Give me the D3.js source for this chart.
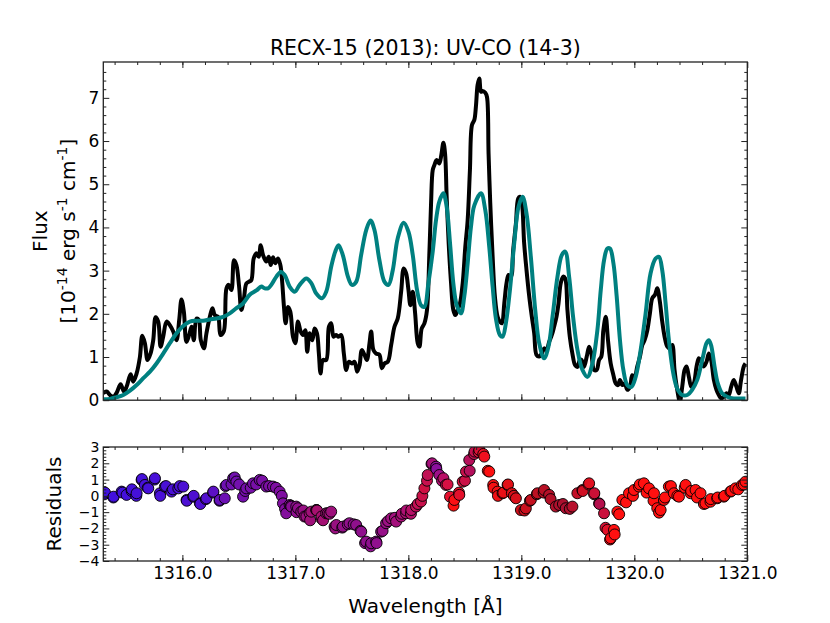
<!DOCTYPE html>
<html>
<head>
<meta charset="utf-8">
<title>RECX-15 (2013): UV-CO (14-3)</title>
<script src="https://d3js.org/d3.v7.min.js"></script>
<style>
  body { margin: 0; background: #fff; }
  text { font-family: "DejaVu Sans", sans-serif; }
</style>
</head>
<body>
<script>
// observed spectrum (flux in 1e-14 erg/s/cm2/A)
var obsWave = [1315.300, 1315.330, 1315.359, 1315.389, 1315.418, 1315.453, 1315.483, 1315.506, 1315.542, 1315.565,
  1315.595, 1315.624, 1315.645, 1315.668, 1315.692, 1315.718, 1315.742, 1315.763, 1315.786, 1315.807,
  1315.830, 1315.860, 1315.889, 1315.919, 1315.948, 1315.972, 1315.992, 1316.013, 1316.036, 1316.060,
  1316.081, 1316.101, 1316.125, 1316.145, 1316.163, 1316.190, 1316.213, 1316.243, 1316.266, 1316.287,
  1316.316, 1316.337, 1316.366, 1316.390, 1316.410, 1316.434, 1316.457, 1316.478, 1316.502, 1316.522,
  1316.543, 1316.566, 1316.587, 1316.610, 1316.631, 1316.655, 1316.676, 1316.693, 1316.714, 1316.743,
  1316.764, 1316.782, 1316.802, 1316.823, 1316.846, 1316.867, 1316.882, 1316.899, 1316.914, 1316.935,
  1316.955, 1316.979, 1317.000, 1317.023, 1317.047, 1317.067, 1317.088, 1317.105, 1317.126, 1317.150,
  1317.170, 1317.191, 1317.208, 1317.223, 1317.244, 1317.273, 1317.297, 1317.317, 1317.338, 1317.362,
  1317.382, 1317.406, 1317.429, 1317.450, 1317.473, 1317.500, 1317.524, 1317.547, 1317.568, 1317.588,
  1317.612, 1317.633, 1317.656, 1317.671, 1317.691, 1317.715, 1317.744, 1317.765, 1317.789, 1317.818,
  1317.848, 1317.877, 1317.906, 1317.936, 1317.959, 1317.980, 1318.001, 1318.018, 1318.039, 1318.060,
  1318.083, 1318.098, 1318.118, 1318.142, 1318.165, 1318.186, 1318.201, 1318.216, 1318.230, 1318.251,
  1318.274, 1318.292, 1318.310, 1318.325, 1318.339, 1318.357, 1318.378, 1318.398, 1318.416, 1318.436,
  1318.457, 1318.481, 1318.504, 1318.525, 1318.545, 1318.563, 1318.584, 1318.598, 1318.613, 1318.628,
  1318.643, 1318.657, 1318.681, 1318.696, 1318.710, 1318.725, 1318.746, 1318.766, 1318.790, 1318.810,
  1318.828, 1318.849, 1318.869, 1318.887, 1318.908, 1318.928, 1318.952, 1318.972, 1318.987, 1319.005,
  1319.025, 1319.046, 1319.070, 1319.093, 1319.114, 1319.134, 1319.158, 1319.181, 1319.202, 1319.223,
  1319.246, 1319.270, 1319.290, 1319.311, 1319.329, 1319.349, 1319.370, 1319.388, 1319.408, 1319.429,
  1319.452, 1319.476, 1319.497, 1319.517, 1319.535, 1319.555, 1319.579, 1319.600, 1319.620, 1319.644,
  1319.667, 1319.688, 1319.708, 1319.726, 1319.747, 1319.767, 1319.791, 1319.815, 1319.835, 1319.856,
  1319.873, 1319.894, 1319.915, 1319.938, 1319.962, 1319.982, 1320.003, 1320.026, 1320.050, 1320.071,
  1320.091, 1320.115, 1320.138, 1320.159, 1320.183, 1320.203, 1320.224, 1320.247, 1320.268, 1320.292,
  1320.315, 1320.336, 1320.356, 1320.380, 1320.403, 1320.424, 1320.445, 1320.462, 1320.483, 1320.504,
  1320.527, 1320.551, 1320.571, 1320.592, 1320.615, 1320.639, 1320.660, 1320.680, 1320.704, 1320.727,
  1320.748, 1320.769, 1320.792, 1320.816, 1320.836, 1320.857, 1320.880, 1320.904, 1320.925, 1320.945,
  1320.969, 1320.984];
var obsFlux = [0.16, 0.20, 0.12, 0.08, 0.17, 0.37, 0.20, 0.31, 0.60, 0.43,
  0.62, 1.00, 1.49, 1.32, 0.93, 1.08, 1.39, 1.92, 1.82, 1.24,
  1.47, 1.82, 1.74, 1.59, 1.39, 1.86, 2.33, 2.05, 1.35, 1.51,
  1.70, 1.39, 1.89, 1.86, 1.39, 1.20, 1.55, 1.93, 2.13, 1.97,
  1.93, 1.51, 1.59, 2.59, 2.67, 2.55, 3.24, 3.13, 2.63, 2.09,
  2.32, 2.70, 2.74, 2.78, 3.28, 3.40, 3.32, 3.59, 3.36, 3.21,
  3.32, 3.13, 3.31, 3.17, 3.28, 3.13, 2.78, 2.16, 1.78, 2.16,
  2.05, 1.47, 1.32, 1.82, 1.59, 1.51, 1.62, 1.12, 1.55, 1.39,
  1.66, 1.55, 1.08, 0.62, 0.93, 0.93, 1.70, 1.78, 1.47, 1.51,
  1.47, 1.51, 1.08, 0.70, 0.89, 0.85, 0.89, 0.66, 0.81, 1.16,
  1.05, 0.93, 1.32, 1.59, 1.16, 1.08, 1.05, 0.74, 0.85, 0.89,
  1.28, 1.70, 1.89, 2.51, 3.05, 2.94, 2.55, 2.20, 2.51, 2.01,
  1.32, 1.24, 1.66, 1.78, 2.09, 3.40, 4.56, 5.33, 5.44, 5.56,
  5.48, 5.68, 5.96, 5.71, 4.71, 3.63, 2.71, 2.09, 1.97, 2.09,
  2.24, 2.71, 3.55, 4.17, 5.33, 6.37, 6.49, 6.80, 7.30, 7.45,
  7.14, 7.16, 7.12, 7.02, 5.71, 4.56, 3.32, 2.40, 1.93, 1.82,
  1.78, 2.24, 2.71, 2.90, 2.86, 3.48, 4.09, 4.67, 4.71, 4.56,
  3.63, 3.01, 2.40, 1.93, 1.55, 1.05, 1.01, 1.08, 1.20, 1.16,
  1.35, 1.51, 1.70, 1.93, 2.24, 2.71, 2.86, 2.82, 2.09, 1.47,
  1.08, 0.81, 0.77, 0.93, 0.93, 0.77, 1.01, 1.24, 1.08, 0.70,
  0.70, 0.93, 1.01, 1.62, 1.93, 1.39, 0.85, 0.58, 0.39, 0.35,
  0.47, 0.35, 0.39, 0.24, 0.31, 0.58, 0.54, 0.78, 1.01, 1.28,
  1.39, 1.62, 2.01, 2.36, 2.44, 2.59, 2.32, 1.82, 1.47, 1.24,
  1.20, 1.28, 0.70, 0.24, -0.03, 0.31, 0.70, 0.78, 0.54, 0.31,
  0.39, 0.78, 0.97, 0.89, 0.78, 0.89, 1.08, 0.93, 0.47, 0.24,
  0.12, 0.04, 0.08, 0.16, 0.12, 0.31, 0.47, 0.31, 0.16, 0.47,
  0.78, 0.85];

// model spectrum
var modelWave = [1315.300, 1315.359, 1315.418, 1315.477, 1315.536, 1315.595, 1315.654, 1315.713, 1315.771, 1315.830,
  1315.889, 1315.948, 1316.007, 1316.066, 1316.125, 1316.184, 1316.243, 1316.302, 1316.360, 1316.419,
  1316.478, 1316.537, 1316.596, 1316.655, 1316.699, 1316.728, 1316.758, 1316.787, 1316.832, 1316.870,
  1316.905, 1316.949, 1316.994, 1317.038, 1317.097, 1317.141, 1317.185, 1317.235, 1317.273, 1317.317,
  1317.353, 1317.382, 1317.420, 1317.465, 1317.500, 1317.538, 1317.582, 1317.627, 1317.665, 1317.700,
  1317.744, 1317.789, 1317.824, 1317.862, 1317.906, 1317.959, 1318.001, 1318.039, 1318.077, 1318.112,
  1318.142, 1318.177, 1318.216, 1318.245, 1318.274, 1318.310, 1318.339, 1318.369, 1318.398, 1318.428,
  1318.466, 1318.495, 1318.525, 1318.554, 1318.584, 1318.643, 1318.681, 1318.716, 1318.746, 1318.775,
  1318.810, 1318.834, 1318.863, 1318.899, 1318.937, 1318.975, 1319.011, 1319.046, 1319.084, 1319.123,
  1319.158, 1319.202, 1319.240, 1319.276, 1319.320, 1319.358, 1319.388, 1319.423, 1319.458, 1319.497,
  1319.541, 1319.585, 1319.629, 1319.673, 1319.703, 1319.732, 1319.761, 1319.785, 1319.815, 1319.844,
  1319.873, 1319.903, 1319.938, 1319.974, 1320.012, 1320.056, 1320.100, 1320.144, 1320.188, 1320.218,
  1320.247, 1320.277, 1320.306, 1320.345, 1320.380, 1320.424, 1320.468, 1320.512, 1320.557, 1320.601,
  1320.639, 1320.660, 1320.680, 1320.710, 1320.739, 1320.777, 1320.822, 1320.880, 1320.939, 1320.984];
var modelFlux = [0.02, 0.03, 0.07, 0.12, 0.22, 0.35, 0.51, 0.66, 0.85, 1.08,
  1.32, 1.55, 1.72, 1.82, 1.84, 1.84, 1.87, 1.89, 1.93, 2.01,
  2.13, 2.24, 2.44, 2.54, 2.63, 2.59, 2.59, 2.67, 2.86, 2.97,
  2.90, 2.63, 2.51, 2.67, 2.82, 2.71, 2.47, 2.36, 2.51, 3.09,
  3.44, 3.59, 3.36, 2.86, 2.67, 2.74, 3.36, 3.94, 4.16, 3.94,
  3.24, 2.74, 2.67, 3.01, 3.75, 4.11, 3.90, 3.36, 2.55, 2.20,
  2.16, 2.70, 3.45, 4.17, 4.60, 4.79, 4.48, 3.63, 2.71, 2.20,
  2.01, 2.40, 3.17, 4.01, 4.51, 4.79, 4.40, 3.55, 2.63, 1.89,
  1.51, 1.47, 1.78, 2.55, 3.63, 4.48, 4.71, 4.32, 3.32, 2.09,
  1.32, 0.97, 1.24, 1.93, 2.86, 3.36, 3.44, 2.86, 1.93, 1.16,
  0.70, 0.54, 0.85, 1.62, 2.55, 3.24, 3.51, 3.51, 3.17, 2.40,
  1.39, 0.70, 0.35, 0.31, 0.54, 1.16, 2.01, 2.94, 3.28, 3.32,
  3.01, 2.24, 1.39, 0.62, 0.27, 0.12, 0.12, 0.24, 0.47, 0.93,
  1.32, 1.39, 1.27, 0.78, 0.39, 0.16, 0.08, 0.04, 0.04, 0.04];

// residuals
var resWave = [1315.308, 1315.315, 1315.389, 1315.391, 1315.462, 1315.470, 1315.506, 1315.551, 1315.553, 1315.592,
  1315.595, 1315.639, 1315.642, 1315.668, 1315.693, 1315.698, 1315.754, 1315.757, 1315.801, 1315.804,
  1315.845, 1315.855, 1315.904, 1315.916, 1315.964, 1315.977, 1316.008, 1316.037, 1316.039, 1316.096,
  1316.100, 1316.155, 1316.159, 1316.208, 1316.213, 1316.272, 1316.274, 1316.329, 1316.331, 1316.375,
  1316.382, 1316.390, 1316.435, 1316.449, 1316.463, 1316.478, 1316.503, 1316.537, 1316.556, 1316.566,
  1316.605, 1316.625, 1316.653, 1316.684, 1316.706, 1316.743, 1316.767, 1316.802, 1316.828, 1316.861,
  1316.880, 1316.890, 1316.909, 1316.919, 1316.949, 1316.961, 1316.964, 1317.008, 1317.010, 1317.023,
  1317.052, 1317.071, 1317.081, 1317.097, 1317.126, 1317.131, 1317.141, 1317.185, 1317.187, 1317.192,
  1317.229, 1317.231, 1317.245, 1317.273, 1317.288, 1317.302, 1317.317, 1317.347, 1317.354, 1317.362,
  1317.415, 1317.421, 1317.464, 1317.479, 1317.516, 1317.538, 1317.577, 1317.583, 1317.617, 1317.627,
  1317.666, 1317.671, 1317.715, 1317.719, 1317.759, 1317.772, 1317.803, 1317.820, 1317.848, 1317.881,
  1317.892, 1317.936, 1317.942, 1317.980, 1317.982, 1318.023, 1318.026, 1318.068, 1318.084, 1318.112,
  1318.124, 1318.142, 1318.165, 1318.171, 1318.205, 1318.210, 1318.245, 1318.248, 1318.274, 1318.298,
  1318.310, 1318.333, 1318.347, 1318.369, 1318.400, 1318.407, 1318.448, 1318.451, 1318.481, 1318.501,
  1318.510, 1318.539, 1318.543, 1318.582, 1318.586, 1318.622, 1318.628, 1318.663, 1318.672, 1318.703,
  1318.716, 1318.751, 1318.754, 1318.790, 1318.793, 1318.834, 1318.841, 1318.878, 1318.882, 1318.916,
  1318.934, 1318.952, 1318.996, 1319.028, 1319.040, 1319.076, 1319.084, 1319.137, 1319.143, 1319.198,
  1319.202, 1319.246, 1319.259, 1319.305, 1319.335, 1319.368, 1319.393, 1319.429, 1319.452, 1319.496,
  1319.541, 1319.544, 1319.595, 1319.600, 1319.644, 1319.646, 1319.688, 1319.692, 1319.732, 1319.745,
  1319.762, 1319.785, 1319.791, 1319.820, 1319.826, 1319.850, 1319.866, 1319.894, 1319.927, 1319.953,
  1319.988, 1319.997, 1320.041, 1320.049, 1320.085, 1320.109, 1320.130, 1320.170, 1320.174, 1320.203,
  1320.219, 1320.233, 1320.262, 1320.271, 1320.306, 1320.324, 1320.350, 1320.381, 1320.395, 1320.446,
  1320.454, 1320.498, 1320.503, 1320.542, 1320.555, 1320.586, 1320.616, 1320.630, 1320.674, 1320.677,
  1320.733, 1320.738, 1320.792, 1320.798, 1320.851, 1320.859, 1320.895, 1320.920, 1320.954, 1320.969,
  1320.984];
var resVal = [0.10, 0.20, -0.10, -0.05, 0.26, 0.20, 0.06, 0.30, 0.40, 0.00,
  0.16, 0.98, 1.03, 0.67, 0.50, 0.46, 1.00, 1.08, 0.16, 0.00,
  0.57, 0.60, 0.26, 0.40, 0.46, 0.60, 0.57, -0.25, -0.30, -0.05,
  0.00, -0.46, -0.50, -0.20, -0.15, 0.20, 0.26, -0.30, -0.25, -0.15,
  0.60, 0.67, 0.70, 1.08, 1.13, 0.88, 0.70, -0.05, 0.30, 0.46,
  0.50, 0.77, 0.70, 0.98, 0.93, 0.57, 0.60, 0.57, 0.50, 0.26,
  0.00, -0.46, -0.80, -1.07, -0.56, -0.60, -0.66, -0.66, -1.00, -0.76,
  -0.97, -0.90, -1.27, -1.27, -1.07, -1.50, -0.97, -0.87, -0.87, -0.90,
  -1.38, -1.27, -1.50, -1.07, -1.07, -1.10, -0.97, -1.89, -2.00, -1.79,
  -1.95, -1.89, -1.75, -1.68, -1.75, -1.79, -2.15, -2.20, -2.90, -2.81,
  -3.10, -2.91, -2.81, -2.90, -2.20, -2.15, -1.68, -1.55, -1.38, -1.35,
  -1.58, -1.27, -1.10, -1.07, -0.90, -1.10, -0.87, -0.66, -0.50, -0.35,
  0.00, 0.46, 0.93, 1.28, 1.96, 2.00, 1.79, 1.65, 1.28, 0.93,
  1.08, 0.67, 0.70, -0.05, -0.60, -0.25, 0.20, 0.06, 0.87, 0.93,
  1.49, 2.20, 1.54, 2.57, 2.72, 2.68, 2.82, 2.57, 2.41, 1.54,
  1.49, 0.67, 0.50, 0.26, 0.00, 0.16, 0.20, 0.67, 0.70, 0.16,
  0.00, -0.15, -0.87, -0.90, -0.77, -0.30, -0.25, 0.10, 0.16, 0.20,
  0.36, 0.06, -0.20, -0.66, -0.56, -0.50, -0.76, -0.80, -0.66, 0.16,
  0.36, 0.30, 0.70, 0.77, 0.10, 0.16, -0.46, -0.50, -1.07, -1.96,
  -2.09, -2.68, -2.60, -2.09, -2.37, -0.97, -1.13, -0.25, -0.40, 0.16,
  0.00, 0.36, 0.57, 0.70, 0.77, 0.20, 0.46, -0.30, 0.16, -0.76,
  -1.03, -0.87, -0.25, -0.10, 0.57, 0.60, 0.16, 0.00, -0.05, 0.50,
  0.67, 0.16, 0.30, 0.36, -0.10, 0.16, -0.50, -0.46, -0.36, -0.20,
  -0.15, -0.10, -0.05, 0.00, 0.26, 0.30, 0.46, 0.40, 0.67, 0.70,
  0.87];

// axis ticks
var xTicks = [1316.0, 1317.0, 1318.0, 1319.0, 1320.0, 1321.0];
var fluxTicks = [0, 1, 2, 3, 4, 5, 6, 7];
var resTicks = [-4, -3, -2, -1, 0, 1, 2, 3];

var w = 830, h = 623;
var left = 103.3, right = 747.3;
var top1 = 62, bot1 = 400.2, top2 = 447, bot2 = 561;

var svg = d3.select("body").append("svg").attr("width", w).attr("height", h);

var x = d3.scaleLinear().domain([1315.3, 1321.0]).range([left, right]);
var yF = d3.scaleLinear().domain([0, 7.83]).range([bot1, top1]);
var yR = d3.scaleLinear().domain([-4, 3]).range([bot2, top2]);

// colour of residual points drifts from blue to red along the band
var resColor = d3.scaleLinear()
  .domain([1315.3, 1316.2, 1316.4, 1316.9, 1317.2, 1317.45, 1317.7, 1318.0, 1318.15, 1318.25,
           1318.4, 1318.55, 1318.7, 1319.1, 1319.4, 1319.6, 1319.7, 1319.8, 1321.0])
  .range(["#4010e0", "#5010d0", "#7010b0", "#800ea0", "#a8106e", "#90108a", "#8e1090", "#b01070", "#d01040", "#8a10a0",
          "#ff1010", "#b01060", "#ff1010", "#c01020", "#a81030", "#e01020", "#b01050", "#ff1010", "#ff1010"]);

var defs = svg.append("defs");
defs.append("clipPath").attr("id", "clipTop").append("rect")
  .attr("x", left).attr("y", top1).attr("width", right - left).attr("height", bot1 - top1);
defs.append("clipPath").attr("id", "clipBot").append("rect")
  .attr("x", left).attr("y", top2).attr("width", right - left).attr("height", bot2 - top2);

var obs = obsWave.map(function(d, i){ return [d, obsFlux[i]]; });
var mod = modelWave.map(function(d, i){ return [d, modelFlux[i]]; });
var res = resWave.map(function(d, i){ return [d, resVal[i]]; });

var line = d3.line()
  .x(function(d){ return x(d[0]); })
  .y(function(d){ return yF(d[1]); })
  .curve(d3.curveCatmullRom.alpha(0.5));

var plot1 = svg.append("g").attr("clip-path", "url(#clipTop)");
plot1.append("path").datum(obs).attr("d", line)
  .attr("fill", "none").attr("stroke", "#000").attr("stroke-width", 4).attr("stroke-linejoin", "round");
plot1.append("path").datum(mod).attr("d", line)
  .attr("fill", "none").attr("stroke", "#008080").attr("stroke-width", 4).attr("stroke-linejoin", "round");

var plot2 = svg.append("g").attr("clip-path", "url(#clipBot)");
plot2.selectAll("circle").data(res).enter().append("circle")
  .attr("cx", function(d){ return x(d[0]); })
  .attr("cy", function(d){ return yR(d[1]); })
  .attr("r", 5.5)
  .attr("fill", function(d){ return resColor(d[0]); })
  .attr("stroke", "#000").attr("stroke-width", 0.9);

var xMinor = d3.range(1315.4, 1321.0, 0.2);

function frame(yScale, yTop, yBot, yMajor, yMinor, xLabels, yFont) {
  var g = svg.append("g");
  function put(axis, tx, ty, lab, fs) {
    var a = g.append("g").attr("transform", "translate(" + tx + "," + ty + ")").call(axis);
    a.select(".domain").remove();
    a.selectAll("line").attr("stroke", "#222").attr("stroke-width", 1);
    a.attr("font-size", fs || 17).attr("font-family", "DejaVu Sans");
    a.selectAll("text").attr("fill", "#000");
    if (!lab) a.selectAll("text").remove();
    return a;
  }
  put(d3.axisBottom(x).tickValues(xTicks).tickSize(-6).tickPadding(6).tickFormat(d3.format(".1f")), 0, yBot, xLabels);
  put(d3.axisBottom(x).tickValues(xMinor).tickSize(-3), 0, yBot, false);
  put(d3.axisTop(x).tickValues(xTicks).tickSize(-6), 0, yTop, false);
  put(d3.axisTop(x).tickValues(xMinor).tickSize(-3), 0, yTop, false);
  put(d3.axisLeft(yScale).tickValues(yMajor).tickSize(-6).tickPadding(4).tickFormat(d3.format("d")), left, 0, true, yFont);
  put(d3.axisRight(yScale).tickValues(yMajor).tickSize(-6), right, 0, false);
  put(d3.axisLeft(yScale).tickValues(yMinor).tickSize(-3), left, 0, false);
  put(d3.axisRight(yScale).tickValues(yMinor).tickSize(-3), right, 0, false);
  g.append("rect").attr("x", left).attr("y", yTop).attr("width", right - left).attr("height", yBot - yTop)
    .attr("fill", "none").attr("stroke", "#222").attr("stroke-width", 1.3);
}

var fluxMinor = d3.range(0.2, 7.8, 0.2).filter(function(v){ return Math.abs(v - Math.round(v)) > 0.01; });
var resMinor = d3.range(-3.8, 3.0, 0.2).filter(function(v){ return Math.abs(v - Math.round(v)) > 0.01; });

frame(yF, top1, bot1, fluxTicks, fluxMinor, false, 17);
frame(yR, top2, bot2, resTicks, resMinor, true, 14);

// title and labels
svg.append("text").attr("x", (left + right) / 2).attr("y", 55)
  .attr("text-anchor", "middle").attr("font-size", 20.5).text("RECX-15 (2013): UV-CO (14-3)");

svg.append("text").attr("x", (left + right) / 2).attr("y", 613)
  .attr("text-anchor", "middle").attr("font-size", 20).text("Wavelength [Å]");

svg.append("text").attr("transform", "translate(61," + ((top2 + bot2) / 2) + ") rotate(-90)")
  .attr("text-anchor", "middle").attr("font-size", 20).text("Residuals");

svg.append("text").attr("transform", "translate(47," + ((top1 + bot1) / 2) + ") rotate(-90)")
  .attr("text-anchor", "middle").attr("font-size", 20).text("Flux");

var unit = svg.append("text").attr("transform", "translate(75," + ((top1 + bot1) / 2) + ") rotate(-90)")
  .attr("text-anchor", "middle").attr("font-size", 20);
unit.append("tspan").text("[10");
unit.append("tspan").attr("dy", -8).attr("font-size", 14).text("-14");
unit.append("tspan").attr("dy", 8).text(" erg s");
unit.append("tspan").attr("dy", -8).attr("font-size", 14).text("-1");
unit.append("tspan").attr("dy", 8).text(" cm");
unit.append("tspan").attr("dy", -8).attr("font-size", 14).text("-1");
unit.append("tspan").attr("dy", 8).text("]");
</script>
</body>
</html>
